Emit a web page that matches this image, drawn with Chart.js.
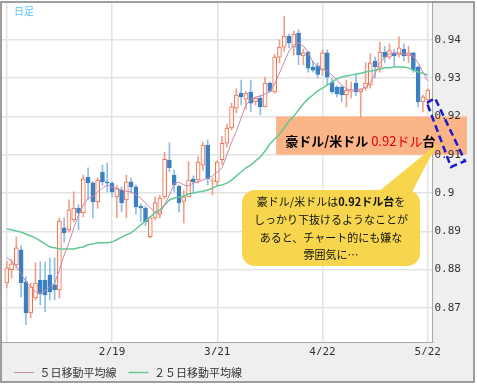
<!DOCTYPE html>
<html>
<head>
<meta charset="utf-8">
<script src="https://cdn.jsdelivr.net/npm/chart.js@4.4.1/dist/chart.umd.min.js"></script>
<style>
  html, body { margin: 0; padding: 0; background: #fff; }
  canvas { display: block; }
</style>
</head>
<body>
<canvas id="chart" width="477" height="385"></canvas>
<script>
// AUD/USD daily candles, 2014/1/20 - 5/22, with 5- and 25-day moving averages

const dates = ['1/20','1/21','1/22','1/23','1/24','1/27','1/28','1/29','1/30','1/31',
  '2/3','2/4','2/5','2/6','2/7','2/10','2/11','2/12','2/13','2/14',
  '2/17','2/18','2/19','2/20','2/21','2/24','2/25','2/26','2/27','2/28',
  '3/3','3/4','3/5','3/6','3/7','3/10','3/11','3/12','3/13','3/14',
  '3/17','3/18','3/19','3/20','3/21','3/24','3/25','3/26','3/27','3/28',
  '3/31','4/1','4/2','4/3','4/4','4/7','4/8','4/9','4/10','4/11',
  '4/14','4/15','4/16','4/17','4/18','4/21','4/22','4/23','4/24','4/25',
  '4/28','4/29','4/30','5/1','5/2','5/5','5/6','5/7','5/8','5/9',
  '5/12','5/13','5/14','5/15','5/16','5/19','5/20','5/21','5/22'];

const open = [.8765,.8800,.8812,.8852,.8768,.8687,.8726,.8773,.8773,.8786,
  .8760,.8747,.8909,.8904,.8930,.8961,.8948,.9041,.9027,.8977,
  .9055,.9029,.9026,.8990,.9008,.8982,.9029,.9016,.8966,.8961,
  .8886,.8935,.8944,.8990,.9086,.9047,.9018,.8978,.8990,.9037,
  .9034,.9073,.9125,.9031,.9029,.9087,.9130,.9170,.9222,.9261,
  .9245,.9264,.9238,.9248,.9225,.9287,.9264,.9355,.9381,.9410,
  .9381,.9418,.9358,.9368,.9329,.9332,.9321,.9366,.9290,.9277,
  .9277,.9256,.9266,.9287,.9264,.9274,.9282,.9345,.9329,.9368,
  .9355,.9366,.9361,.9376,.9358,.9366,.9329,.9238,.9243];

const high = [.8822,.8826,.8886,.8862,.8781,.8765,.8818,.8821,.8820,.8831,
  .8831,.8935,.8935,.8982,.9003,.8970,.9047,.9066,.9030,.9040,
  .9073,.9078,.9030,.9020,.9016,.9047,.9040,.9021,.8972,.8966,
  .8935,.8990,.8995,.9107,.9131,.9060,.9020,.9008,.9082,.9045,
  .9095,.9133,.9139,.9040,.9085,.9149,.9180,.9235,.9272,.9295,
  .9265,.9295,.9250,.9255,.9303,.9290,.9362,.9400,.9462,.9415,
  .9423,.9426,.9376,.9370,.9345,.9340,.9374,.9374,.9300,.9280,
  .9280,.9295,.9290,.9308,.9272,.9340,.9364,.9355,.9394,.9383,
  .9390,.9376,.9408,.9390,.9384,.9368,.9332,.9256,.9272];

const low = [.8752,.8778,.8805,.8729,.8656,.8674,.8720,.8708,.8690,.8721,
  .8721,.8726,.8872,.8898,.8925,.8904,.8938,.8982,.8935,.8960,
  .9020,.9003,.8990,.8935,.8951,.8935,.9000,.8945,.8925,.8915,
  .8883,.8930,.8935,.8985,.9055,.9003,.8950,.8922,.8990,.9000,
  .9026,.9060,.9021,.8995,.9020,.9075,.9120,.9165,.9210,.9230,
  .9220,.9212,.9230,.9204,.9225,.9262,.9260,.9340,.9370,.9380,
  .9360,.9335,.9335,.9316,.9316,.9300,.9308,.9282,.9260,.9251,
  .9238,.9225,.9248,.9254,.9196,.9268,.9274,.9300,.9316,.9340,
  .9350,.9330,.9355,.9345,.9340,.9315,.9225,.9212,.9230];

const close = [.8805,.8815,.8857,.8766,.8687,.8755,.8765,.8737,.8734,.8742,
  .8747,.8927,.8896,.8956,.8961,.8948,.9037,.9027,.8977,.9034,
  .9029,.9026,.9003,.9013,.8974,.9029,.9016,.8964,.8961,.8925,
  .8935,.8975,.8987,.9088,.9066,.9021,.8974,.8990,.9034,.9029,
  .9081,.9125,.9037,.9034,.9081,.9130,.9170,.9225,.9256,.9251,
  .9261,.9235,.9248,.9225,.9287,.9266,.9355,.9381,.9410,.9392,
  .9415,.9361,.9366,.9326,.9321,.9310,.9366,.9303,.9264,.9259,
  .9256,.9269,.9269,.9264,.9272,.9287,.9340,.9330,.9368,.9355,
  .9372,.9358,.9379,.9358,.9366,.9321,.9238,.9251,.9269];

const ma5 = [.8831,.8823,.8807,.8789,.8768,.8755,.8742,.8739,.8745,.8755,
  .8765,.8799,.8838,.8870,.8909,.8943,.8969,.8987,.8990,.9003,
  .9013,.9021,.9016,.9011,.9008,.9005,.9003,.8995,.8987,.8974,
  .8961,.8951,.8948,.8969,.8995,.9024,.9029,.9021,.9019,.9026,
  .9029,.9034,.9039,.9045,.9055,.9066,.9100,.9133,.9162,.9196,
  .9230,.9243,.9251,.9253,.9259,.9266,.9285,.9313,.9342,.9371,
  .9387,.9392,.9384,.9368,.9342,.9332,.9324,.9319,.9308,.9295,
  .9282,.9272,.9269,.9269,.9269,.9277,.9287,.9313,.9340,.9355,
  .9363,.9366,.9366,.9363,.9363,.9358,.9340,.9316,.9293];

const ma25 = [.8906,.8904,.8901,.8898,.8893,.8888,.8883,.8875,.8867,.8859,
  .8857,.8854,.8854,.8854,.8854,.8857,.8859,.8865,.8867,.8870,
  .8870,.8870,.8872,.8878,.8885,.8891,.8896,.8906,.8917,.8927,
  .8938,.8948,.8956,.8969,.8982,.8987,.8990,.8992,.8998,.9000,
  .9003,.9005,.9008,.9013,.9019,.9021,.9026,.9034,.9045,.9055,
  .9066,.9073,.9084,.9094,.9110,.9128,.9141,.9154,.9170,.9188,
  .9201,.9217,.9233,.9246,.9256,.9267,.9274,.9282,.9290,.9298,
  .9303,.9306,.9308,.9311,.9313,.9316,.9319,.9321,.9324,.9327,
  .9327,.9329,.9329,.9329,.9327,.9321,.9316,.9313,.9308];

const gridDates = ['1/20', '2/19', '3/21', '4/22', '5/22'];
const xTickLabels = ['2/19', '3/21', '4/22', '5/22'];
const yTickValues = [0.87, 0.88, 0.89, 0.90, 0.91, 0.92, 0.93, 0.94];
const yTickLabels = ['0.87', '0.88', '0.89', '0.9', '0.91', '0.92', '0.93', '0.94'];
const legendNames = ['５日移動平均線', '２５日移動平均線'];

const isUp = i => close[i] >= open[i];
const JP = '"Noto Sans CJK JP", "Noto Sans", sans-serif';
const MONO = '"DejaVu Sans Mono", "Liberation Mono", monospace';

// draws a line of mixed-style text, centred on x (or left-aligned when left=true)
function richText(ctx, parts, x, y, size, left) {
  let total = 0;
  parts.forEach(p => {
    ctx.font = (p.bold ? 'bold ' : '') + size + 'px ' + JP;
    p.w = ctx.measureText(p.t).width;
    total += p.w;
  });
  let cx = left ? x : x - total / 2;
  ctx.textAlign = 'left';
  ctx.textBaseline = 'middle';
  parts.forEach(p => {
    ctx.font = (p.bold ? 'bold ' : '') + size + 'px ' + JP;
    ctx.fillStyle = p.color || '#111';
    ctx.fillText(p.t, cx, y);
    cx += p.w;
  });
}

function roundRectPath(ctx, x, y, w, h, r) {
  ctx.beginPath();
  ctx.moveTo(x + r, y);
  ctx.arcTo(x + w, y, x + w, y + h, r);
  ctx.arcTo(x + w, y + h, x, y + h, r);
  ctx.arcTo(x, y + h, x, y, r);
  ctx.arcTo(x, y, x + w, y, r);
  ctx.closePath();
}

const decor = {
  id: 'decor',
  beforeDraw(chart) {
    const { ctx, chartArea: a } = chart;
    ctx.save();
    ctx.fillStyle = '#fff';
    ctx.fillRect(0, 0, chart.width, chart.height);
    ctx.fillStyle = '#efefef';
    ctx.fillRect(1, 2, 473, 380);
    ctx.fillStyle = '#fff';
    ctx.fillRect(a.left, a.top, a.right - a.left, a.bottom - a.top);
    ctx.restore();
  },
  beforeDatasetsDraw(chart) {
    // orange band 0.91 - 0.92
    const { ctx, scales: { x, y } } = chart;
    const top = y.getPixelForValue(0.92);
    const bot = y.getPixelForValue(0.91);
    const l = x.getPixelForValue(56.3);
    ctx.save();
    ctx.fillStyle = '#fbb487';
    ctx.fillRect(l, top, 467 - l, bot - top);
    ctx.restore();
  },
  afterDraw(chart) {
    const { ctx, scales: { x, y } } = chart;
    ctx.save();

    // band title
    richText(ctx, [
      { t: '豪ドル/米ドル ', bold: true, color: '#000' },
      { t: '0.92ドル', color: '#e00000' },
      { t: '台', bold: true, color: '#000' }
    ], x.getPixelForValue(58.2), (y.getPixelForValue(0.92) + y.getPixelForValue(0.91)) / 2 + 5, 13, true);

    // yellow callout
    ctx.fillStyle = '#f7d64e';
    roundRectPath(ctx, 242, 190, 178, 76, 13);
    ctx.fill();
    ctx.beginPath();
    ctx.moveTo(378, 192);
    ctx.lineTo(437, 144);
    ctx.lineTo(412, 192);
    ctx.closePath();
    ctx.fill();

    const cx = 331;
    richText(ctx, [
      { t: '豪ドル/米ドルは' },
      { t: '0.92ドル台', bold: true },
      { t: 'を' }
    ], cx, 202, 11);
    richText(ctx, [{ t: 'しっかり下抜けるようなことが' }], cx, 220, 11);
    richText(ctx, [{ t: 'あると、チャート的にも嫌な' }], cx, 238, 11);
    richText(ctx, [{ t: '雰囲気に…' }], cx, 255, 11);

    // dashed blue marker
    ctx.strokeStyle = '#1a1acc';
    ctx.lineWidth = 2.5;
    ctx.setLineDash([7, 4]);
    ctx.beginPath();
    ctx.moveTo(427, 103);
    ctx.lineTo(435, 98);
    ctx.lineTo(465, 161);
    ctx.lineTo(451, 167);
    ctx.closePath();
    ctx.stroke();
    ctx.setLineDash([]);

    // label + frame
    ctx.font = '10px ' + JP;
    ctx.fillStyle = '#4fc3f7';
    ctx.textAlign = 'left';
    ctx.textBaseline = 'middle';
    ctx.fillText('日足', 14, 11);

    ctx.strokeStyle = '#808080';
    ctx.lineWidth = 1.5;
    ctx.strokeRect(1, 2, 473, 380);
    ctx.restore();
  }
};

new Chart(document.getElementById('chart'), {
  type: 'bar',
  data: {
    datasets: [
      {
        type: 'line', label: legendNames[0],
        data: ma5.map((v, i) => ({ x: i, y: v })),
        borderColor: '#cc88aa', borderWidth: 1, pointRadius: 0, order: 0
      },
      {
        type: 'line', label: legendNames[1],
        data: ma25.map((v, i) => ({ x: i, y: v })),
        borderColor: '#62c994', borderWidth: 1.5, pointRadius: 0, order: 1
      },
      {
        label: 'body',
        data: open.map((o, i) => ({ x: i, y: [o, close[i]] })),
        backgroundColor: c => isUp(c.dataIndex) ? '#fff6f2' : '#3a80c3',
        borderColor: c => isUp(c.dataIndex) ? '#e8714f' : '#3a80c3',
        borderWidth: 1, borderSkipped: false, barThickness: 4, grouped: false, order: 2
      },
      {
        label: 'wick',
        data: low.map((l, i) => ({ x: i, y: [l, high[i]] })),
        backgroundColor: c => isUp(c.dataIndex) ? '#f2a08a' : '#8ebde5',
        borderWidth: 0, barThickness: 1, grouped: false, order: 3
      }
    ]
  },
  options: {
    responsive: false,
    animation: false,
    devicePixelRatio: 1,
    events: [],
    layout: { padding: { left: 2, top: 2, right: 0, bottom: 0 } },
    scales: {
      x: {
        type: 'linear', min: -1, max: 89, offset: false,
        grid: { offset: false, color: '#e3e3e3', lineWidth: 1.5, drawTicks: false },
        border: { color: '#a8a8a8', width: 1 },
        afterBuildTicks: s => { s.ticks = gridDates.map(d => ({ value: dates.indexOf(d) })); },
        afterFit: s => { s.height = 13; s.paddingLeft = 0; s.paddingRight = 0; },
        ticks: {
          autoSkip: false, maxRotation: 0, padding: 4, color: '#333',
          font: { family: MONO, size: 11 },
          callback: v => xTickLabels.includes(dates[v]) ? dates[v] : ''
        }
      },
      y: {
        type: 'linear', position: 'right', min: 0.8611, max: 0.9499, beginAtZero: false,
        grid: { color: '#e3e3e3', lineWidth: 1.5, drawTicks: false },
        border: { color: '#a8a8a8', width: 1 },
        afterBuildTicks: s => { s.ticks = yTickValues.map(v => ({ value: v })); },
        afterFit: s => { s.width = 44.5; s.paddingTop = 0; s.paddingBottom = 0; },
        ticks: {
          autoSkip: false, padding: 2, color: '#333', z: 1,
          font: { family: MONO, size: 11 },
          callback: (v, i) => yTickLabels[i]
        }
      }
    },
    plugins: {
      tooltip: { enabled: false },
      legend: {
        position: 'bottom', align: 'start', maxHeight: 30,
        labels: {
          usePointStyle: true, pointStyle: 'line', pointStyleWidth: 20, padding: 12,
          color: '#333', font: { family: JP, size: 11 },
          filter: item => item.datasetIndex < 2
        }
      }
    }
  },
  plugins: [decor]
});
</script>
</body>
</html>
